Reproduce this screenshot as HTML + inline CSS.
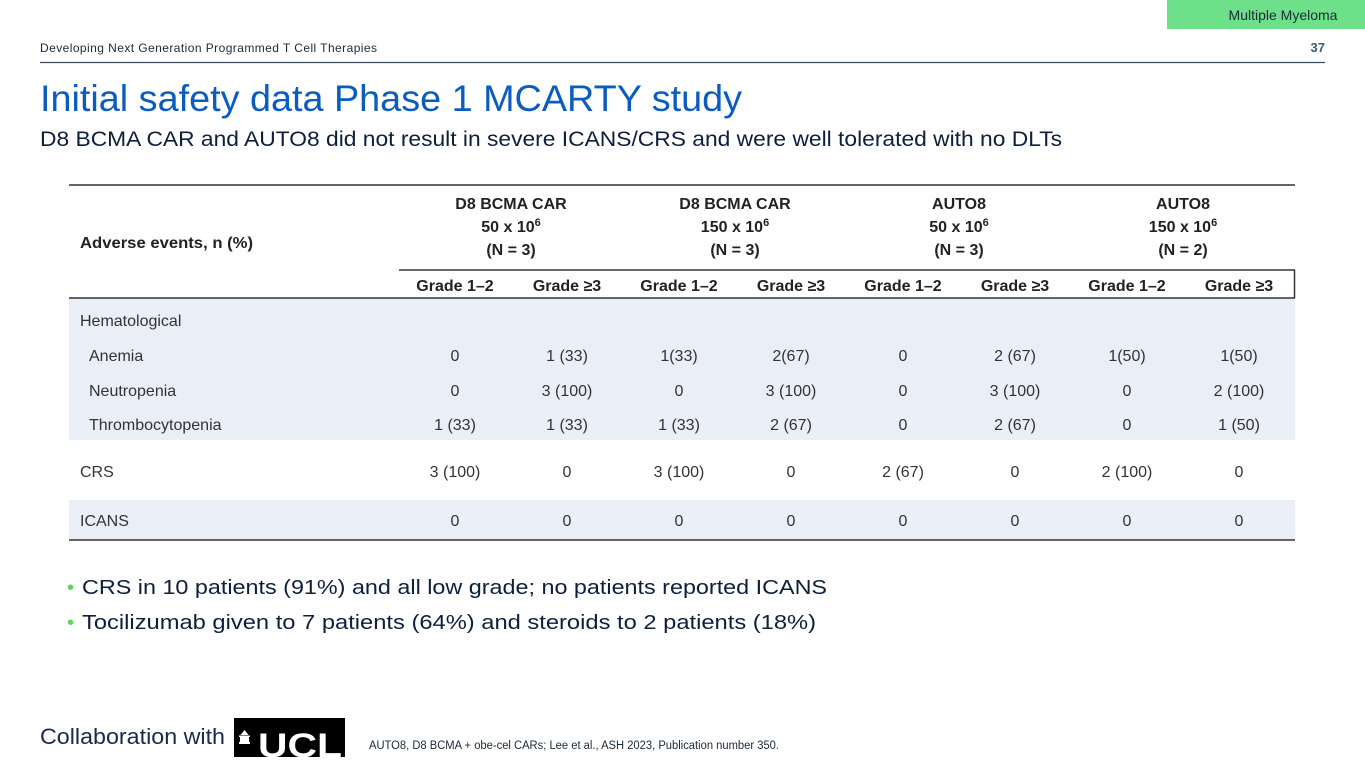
<!DOCTYPE html>
<html><head><meta charset="utf-8">
<style>
html,body{margin:0;padding:0;background:#fff;}
svg{display:block;font-family:"Liberation Sans",sans-serif;}
</style></head>
<body>
<svg id="slide" width="1365" height="768" viewBox="0 0 1365 768" xmlns="http://www.w3.org/2000/svg">
  <rect x="1167" y="0" width="198" height="29" fill="#6ee08a"/>
  <text x="1283" y="20" font-size="14" fill="#1a2a3a" text-anchor="middle">Multiple Myeloma</text>
  <text x="40" y="52" font-size="12" fill="#1a2a3a" textLength="337">Developing Next Generation Programmed T Cell Therapies</text>
  <text x="1325" y="52" font-size="13" font-weight="bold" fill="#3a5a80" text-anchor="end">37</text>
  <line x1="40" y1="62.5" x2="1325" y2="62.5" stroke="#3c4a5e" stroke-width="1.3"/>
  <text x="40" y="111" font-size="37" fill="#0b5cc0" textLength="702" lengthAdjust="spacingAndGlyphs">Initial safety data Phase 1 MCARTY study</text>
  <text x="40" y="146" font-size="21" fill="#0d1f3c" textLength="1022" lengthAdjust="spacingAndGlyphs">D8 BCMA CAR and AUTO8 did not result in severe ICANS/CRS and were well tolerated with no DLTs</text>

  <rect x="69" y="298" width="1226" height="142" fill="#eaeef7"/>
  <rect x="69" y="500" width="1226" height="40" fill="#eaeef7"/>
  <line x1="69" y1="185" x2="1295" y2="185" stroke="#333" stroke-width="1.5"/>
  <line x1="399" y1="270" x2="1295" y2="270" stroke="#333" stroke-width="1.5"/>
  <line x1="1294.5" y1="270" x2="1294.5" y2="298" stroke="#333" stroke-width="1.5"/>
  <line x1="69" y1="298" x2="1295" y2="298" stroke="#333" stroke-width="1.5"/>
  <line x1="69" y1="540" x2="1295" y2="540" stroke="#333" stroke-width="1.5"/>

  <text x="80" y="248" font-size="16" font-weight="bold" fill="#222" textLength="173" lengthAdjust="spacingAndGlyphs">Adverse events, n (%)</text>

  <g id="heads" font-size="16" font-weight="bold" fill="#222" text-anchor="middle"></g>
  <g id="body" font-size="16" fill="#333"></g>

  <text x="67" y="594" font-size="20" fill="#5fd35f">•</text>
  <text x="82" y="594" font-size="20" fill="#0d1f3c" textLength="745" lengthAdjust="spacingAndGlyphs">CRS in 10 patients (91%) and all low grade; no patients reported ICANS</text>
  <text x="67" y="629" font-size="20" fill="#5fd35f">•</text>
  <text x="82" y="629" font-size="20" fill="#0d1f3c" textLength="734" lengthAdjust="spacingAndGlyphs">Tocilizumab given to 7 patients (64%) and steroids to 2 patients (18%)</text>

  <text x="40" y="744" font-size="22" fill="#1a2a4a" textLength="185" lengthAdjust="spacingAndGlyphs">Collaboration with</text>
  <g>
    <rect x="234" y="718" width="111" height="39" fill="#000"/>
    <path d="M239 744 h11 v-2 h-1 v-5 h1 v-1.5 h-11 v1.5 h1 v5 h-1 z M240.5 735 h8 l-4 -5 z" fill="#fff"/>
    <text x="300" y="757" font-size="34" font-weight="bold" fill="#fff" text-anchor="middle" textLength="84" lengthAdjust="spacingAndGlyphs">UCL</text>
  </g>
  <text x="369" y="749" font-size="11.5" fill="#1a2a3a" textLength="410" lengthAdjust="spacingAndGlyphs">AUTO8, D8 BCMA + obe-cel CARs; Lee et al., ASH 2023, Publication number 350.</text>
</svg>
<script>
const groups = ["D8 BCMA CAR", "D8 BCMA CAR", "AUTO8", "AUTO8"];
const doses = ["50", "150", "50", "150"];
const nCounts = ["3", "3", "3", "2"];
const gradeLabels = ["Grade 1\u20132", "Grade \u22653"];
const rowLabels = ["Hematological", "Anemia", "Neutropenia", "Thrombocytopenia", "CRS", "ICANS"];
const rowIndent = [false, true, true, true, false, false];
const anemia = ["0", "1 (33)", "1(33)", "2(67)", "0", "2 (67)", "1(50)", "1(50)"];
const neutropenia = ["0", "3 (100)", "0", "3 (100)", "0", "3 (100)", "0", "2 (100)"];
const thrombocytopenia = ["1 (33)", "1 (33)", "1 (33)", "2 (67)", "0", "2 (67)", "0", "1 (50)"];
const crs = ["3 (100)", "0", "3 (100)", "0", "2 (67)", "0", "2 (100)", "0"];
const icans = ["0", "0", "0", "0", "0", "0", "0", "0"];
const rowValues = [null, anemia, neutropenia, thrombocytopenia, crs, icans];

const NS = "http://www.w3.org/2000/svg";
const colX0 = 399, colW = 112;
const rowY = [326, 361, 396, 430, 477, 526];
function mk(parent, x, y, txt, anchor) {
  const t = document.createElementNS(NS, "text");
  t.setAttribute("x", x); t.setAttribute("y", y);
  if (anchor) t.setAttribute("text-anchor", anchor);
  t.textContent = txt;
  parent.appendChild(t);
  return t;
}
const heads = document.getElementById("heads");
groups.forEach((g, i) => {
  const cx = colX0 + colW * (2 * i + 1);
  const a = mk(heads, cx, 209, g);
  
  
  const d = mk(heads, cx, 232, doses[i] + " x 10");
  
  
  const sup = document.createElementNS(NS, "tspan");
  sup.setAttribute("font-size", "11");
  sup.setAttribute("dy", "-6");
  sup.textContent = "6";
  d.appendChild(sup);
  const n = mk(heads, cx, 255, "(N = " + nCounts[i] + ")");
  
  
  gradeLabels.forEach((gl, j) => {
    const gx = colX0 + colW * (2 * i + j) + colW / 2;
    const t = mk(heads, gx, 291, gl);
    
    
  });
});
const body = document.getElementById("body");
rowLabels.forEach((lab, r) => {
  const t = mk(body, rowIndent[r] ? 89 : 80, rowY[r], lab);
  
  
  const vals = rowValues[r];
  if (!vals) return;
  vals.forEach((v, c) => {
    const cell = mk(body, colX0 + colW * c + colW / 2, rowY[r], v, "middle");
    
    
  });
});
</script>
</body></html>
